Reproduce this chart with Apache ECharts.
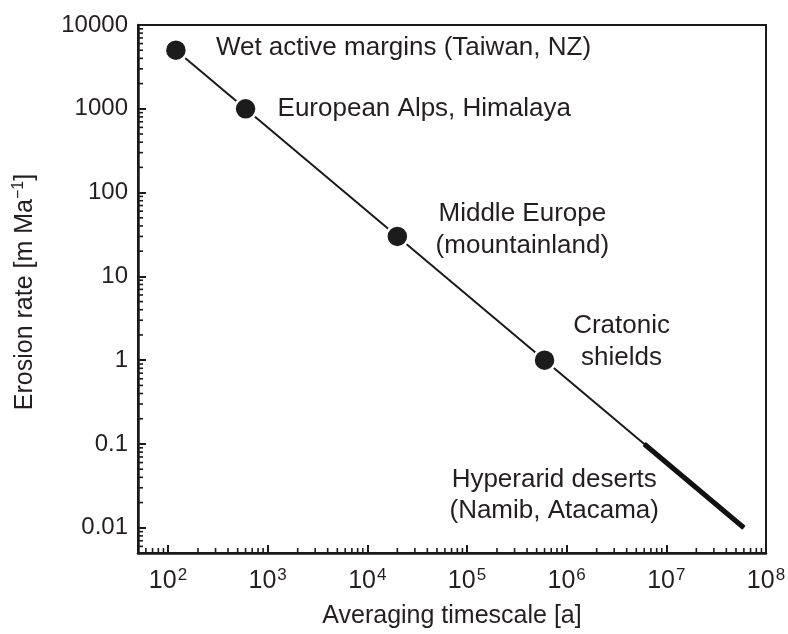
<!DOCTYPE html>
<html>
<head>
<meta charset="utf-8">
<script src="https://cdn.jsdelivr.net/npm/echarts@6/dist/echarts.min.js"></script>
<style>
  html, body { margin: 0; padding: 0; background: #ffffff; }
  #chart { width: 788px; height: 634px; }
</style>
</head>
<body>
<div id="chart"></div>
<script>
// ---- data ----
const regionNames = [
  'Wet active margins (Taiwan, NZ)',
  'European Alps, Himalaya',
  'Middle Europe\n(mountainland)',
  'Cratonic\nshields'
];
const timescales = [120, 600, 20000, 600000];      // averaging timescale [a]
const erosionRates = [5000, 1000, 30, 1];            // erosion rate [m/Ma]
const trendX = [120, 60000000];
const trendY = [5000, 0.01];
const desertName = 'Hyperarid deserts\n(Namib, Atacama)';
const desertX = [6000000, 60000000];
const desertY = [0.1, 0.01];
const xTickExponents = [2, 3, 4, 5, 6, 7, 8];
const yTickLabels = ['0.01', '0.1', '1', '10', '100', '1000', '10000'];
const xRange = [50, 100000000];
const yRange = [0.005, 10000];

// ---- styling helpers ----
const FONT = '"Liberation Sans", Arial, Helvetica, sans-serif';
const INK = '#231f20';

const labelLayouts = [
  { align: 'left', offset: [40, -2] },
  { align: 'left', offset: [32, 0] },
  { align: 'center', offset: [125, -7] },
  { align: 'center', offset: [77, -18] }
];

function isPow10(v) {
  const l = Math.log10(v);
  return Math.abs(l - Math.round(l)) < 1e-6;
}

// minor tick values (2..9 x 10^e) inside the axis ranges
function minorTicks(range) {
  const out = [];
  const e0 = Math.floor(Math.log10(range[0]));
  const e1 = Math.ceil(Math.log10(range[1]));
  for (let e = e0; e < e1; e++) {
    for (let k = 2; k <= 9; k++) {
      const v = k * Math.pow(10, e);
      if (v > range[0] * 1.0001 && v < range[1] * 0.9999) out.push(v);
    }
  }
  return out;
}
const xMinor = minorTicks(xRange);
const yMinor = minorTicks(yRange);

const chart = echarts.init(document.getElementById('chart'), null, { renderer: 'canvas' });

const option = {
  backgroundColor: '#ffffff',
  animation: false,
  textStyle: { fontFamily: FONT, color: INK },
  grid: {
    left: 138, top: 25, width: 628, height: 528,
    containLabel: false,
    outerBoundsMode: 'none',
    show: true, borderColor: '#1a1a1a', borderWidth: 2, backgroundColor: 'transparent'
  },
  xAxis: {
    type: 'log', logBase: 10, min: xRange[0], max: xRange[1],
    axisLine: { show: true, lineStyle: { color: '#1a1a1a', width: 2.5 } },
    axisTick: { show: true, inside: true, length: 8, lineStyle: { color: '#1a1a1a', width: 2 } },
    splitLine: { show: false },
    minorTick: { show: false },
    axisLabel: {
      margin: 14,
      color: INK,
      fontFamily: FONT,
      formatter: function (v) {
        if (!isPow10(v)) return '';
        const e = Math.round(Math.log10(v));
        if (xTickExponents.indexOf(e) < 0) return '';
        return '{b|10}{s|' + e + '}';
      },
      rich: {
        b: { fontSize: 25, fontFamily: FONT, color: INK },
        s: { fontSize: 17, fontFamily: FONT, color: INK, verticalAlign: 'bottom', padding: [0, 0, 12, 1] }
      }
    },
    name: 'Averaging timescale [a]',
    nameLocation: 'middle',
    nameGap: 51,
    nameTextStyle: { fontSize: 25, fontFamily: FONT, color: INK }
  },
  yAxis: {
    type: 'log', logBase: 10, min: yRange[0], max: yRange[1],
    axisLine: { show: true, lineStyle: { color: '#1a1a1a', width: 2.5 } },
    axisTick: { show: true, inside: true, length: 8, lineStyle: { color: '#1a1a1a', width: 2 } },
    splitLine: { show: false },
    minorTick: { show: false },
    axisLabel: {
      margin: 10,
      fontSize: 24,
      color: INK,
      fontFamily: FONT,
      formatter: function (v) {
        if (!isPow10(v)) return '';
        const e = Math.round(Math.log10(v));
        const idx = e + 2;
        return yTickLabels[idx] !== undefined ? yTickLabels[idx] : '';
      }
    },
    name: 'Erosion rate [m Ma{s|\u22121}]',
    nameLocation: 'middle',
    nameGap: 99,
    nameTextStyle: {
      fontSize: 25, fontFamily: FONT, color: INK,
      padding: [0, 6, 0, 0],
      rich: {
        s: { fontSize: 16, fontFamily: FONT, color: INK, verticalAlign: 'bottom', padding: [0, 0, 12, 0] }
      }
    }
  },
  series: [
    {
      type: 'scatter',
      name: 'xMinorTicks',
      silent: true,
      z: 6,
      symbol: 'rect',
      symbolSize: [1.6, 5],
      symbolOffset: [0, -2.5],
      itemStyle: { color: '#1a1a1a', opacity: 1 },
      data: xMinor.map(v => [v, yRange[0]])
    },
    {
      type: 'scatter',
      name: 'yMinorTicks',
      silent: true,
      z: 6,
      symbol: 'rect',
      symbolSize: [5, 1.6],
      symbolOffset: [2.5, 0],
      itemStyle: { color: '#1a1a1a', opacity: 1 },
      data: yMinor.map(v => [xRange[0], v])
    },
    {
      type: 'line',
      name: 'trend',
      data: trendX.map((x, i) => [x, trendY[i]]),
      symbol: 'none',
      silent: true,
      z: 2,
      lineStyle: { color: '#1a1a1a', width: 2 }
    },
    {
      type: 'line',
      name: 'deserts',
      data: desertX.map((x, i) => [x, desertY[i]]),
      symbol: 'none',
      silent: true,
      z: 3,
      lineStyle: { color: '#111111', width: 5, cap: 'butt' }
    },
    {
      type: 'scatter',
      name: 'regions',
      z: 10,
      symbolSize: 22,
      itemStyle: { color: '#1c1c1c', borderColor: '#ffffff', borderWidth: 2.5, opacity: 1 },
      data: timescales.map((x, i) => ({
        value: [x, erosionRates[i]],
        name: regionNames[i],
        label: {
          show: true,
          position: 'inside',
          formatter: '{b}',
          align: labelLayouts[i].align,
          verticalAlign: 'middle',
          offset: labelLayouts[i].offset,
          fontSize: 26,
          lineHeight: 32,
          fontFamily: FONT,
          color: INK
        }
      }))
    },
    {
      type: 'scatter',
      name: 'desertLabel',
      z: 10,
      symbolSize: 0,
      silent: true,
      itemStyle: { opacity: 1 },
      data: [{
        value: [desertX[0], desertY[0]],
        name: desertName,
        label: {
          show: true,
          position: 'inside',
          formatter: '{b}',
          align: 'center',
          verticalAlign: 'middle',
          offset: [-90, 51],
          fontSize: 26,
          lineHeight: 31,
          fontFamily: FONT,
          color: INK
        }
      }]
    }
  ]
};

chart.setOption(option);
</script>
</body>
</html>
